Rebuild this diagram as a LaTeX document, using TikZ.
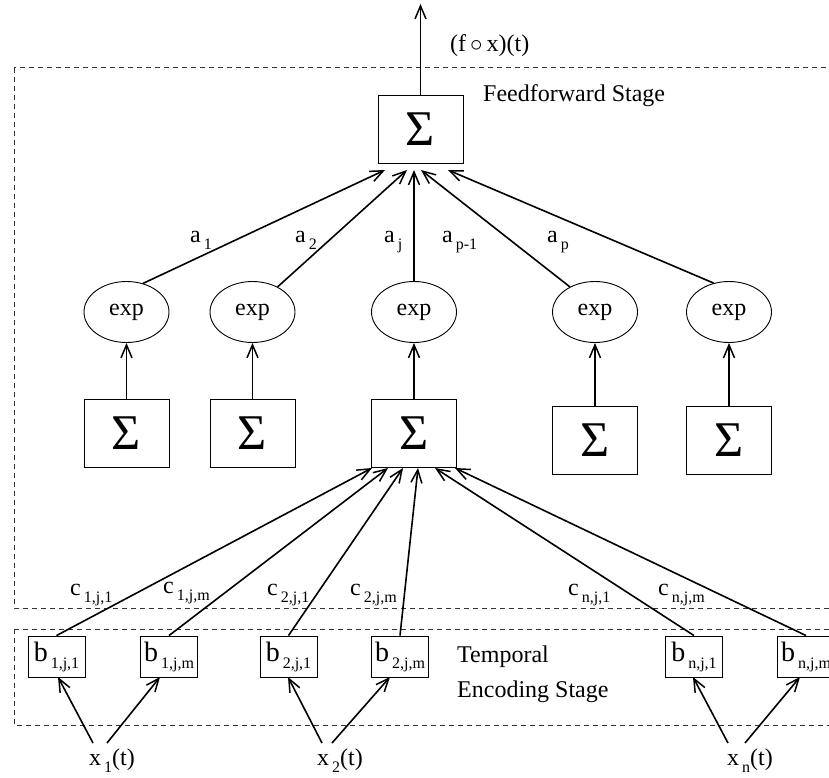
\documentclass[tikz,border=0pt]{standalone}
\usepackage{fontspec}
\setmainfont{Liberation Serif}
\usetikzlibrary{arrows.meta,calc,shapes.geometric}
% lowered, smaller index set after a small gap
\newcommand{\lsub}[1]{\kern3pt\raisebox{-7pt}{\fontsize{16}{16}\selectfont #1}}
\begin{document}
\begin{tikzpicture}[x=1pt,y=-1pt,
  every node/.style={font=\fontsize{24}{28}\selectfont},
  sumbox/.style={draw, line width=0.9pt, minimum width=85pt, minimum height=68pt, inner sep=0pt, font=\fontsize{50}{50}\selectfont},
  expnode/.style={draw, ellipse, line width=0.9pt, minimum width=85pt, minimum height=61pt, inner sep=0pt},
  bbox/.style={draw, line width=0.9pt, minimum width=57pt, minimum height=41pt, inner sep=0pt, font=\fontsize{28}{30}\selectfont},
  conn/.style={line width=1.6pt, -{Straight Barb[length=13pt,width=11pt,line width=1.5pt]}},
  stage/.style={draw=black!80, line width=1pt, dash pattern=on 5pt off 4pt},
  lbl/.style={anchor=base west, inner sep=0pt}
]
\fill[white] (0,0) rectangle (829,778);
\clip (0,0) rectangle (829,778);

% stage frames
\draw[stage] (14,68) rectangle (870,608);
\draw[stage] (14,629) rectangle (870,725);

% output summation
\node[sumbox] (top) at (420.5,129) {Σ};
\coordinate (out) at (420.5,4);
\draw[conn] (top) -- (out);
\node[lbl] (fx) at (450,52) {(f\,$\circ$\,x)(t)};
\node[lbl] (ffs) at (483,102) {Feedforward Stage};

% exponential units
\node[expnode] (e1) at (126.5,312) {exp};
\node[expnode] (e2) at (252.5,312) {exp};
\node[expnode] (e3) at (414,312) {exp};
\node[expnode] (e4) at (595,312) {exp};
\node[expnode] (e5) at (729,312) {exp};

% inner summations
\node[sumbox] (s1) at (126.5,433.5) {Σ};
\node[sumbox] (s2) at (252.5,433.5) {Σ};
\node[sumbox] (s3) at (414,433.5) {Σ};
\node[sumbox] (s4) at (595,440.5) {Σ};
\node[sumbox] (s5) at (729,440.5) {Σ};

\foreach \i in {1,...,5}{\draw[conn] (s\i) -- (e\i);}

% weighted links into the output summation
\coordinate (t1) at (385,170);
\coordinate (t2) at (407,170);
\coordinate (t3) at (414,170);
\coordinate (t4) at (421,170);
\coordinate (t5) at (448,170);
\draw[conn] (e1.60) -- (t1);
\draw[conn] (e2.45) -- (t2);
\draw[conn] (e3.north) -- (t3);
\draw[conn] (e4.135) -- (t4);
\draw[conn] (e5.118) -- (t5);

\node[lbl] (la1) at (190,242) {a\lsub{1}};
\node[lbl] (la2) at (295,242) {a\lsub{2}};
\node[lbl] (laj) at (384,242) {a\lsub{j}};
\node[lbl] (lap1) at (442,242) {a\lsub{p-1}};
\node[lbl] (lap) at (547,242) {a\lsub{p}};

% temporal encoding units
\node[bbox] (b11) at (56.5,656.5) {b\lsub{1,j,1}};
\node[bbox] (b1m) at (169,656.5) {b\lsub{1,j,m}};
\node[bbox] (b21) at (288.5,656.5) {b\lsub{2,j,1}};
\node[bbox] (b2m) at (400,656.5) {b\lsub{2,j,m}};
\node[bbox] (bn1) at (694,656.5) {b\lsub{n,j,1}};
\node[bbox] (bnm) at (806,656.5) {b\lsub{n,j,m}};

\node[lbl] (tmp1) at (457,662) {Temporal};
\node[lbl] (tmp2) at (457,697) {Encoding Stage};

% links into the j-th inner summation
\coordinate (u1) at (372,468);
\coordinate (u2) at (388,468);
\coordinate (u3) at (403,468);
\coordinate (u4) at (418,468);
\coordinate (u5) at (435,468);
\coordinate (u6) at (455,468);
\draw[conn] (b11.north) -- (u1);
\draw[conn] (b1m.north) -- (u2);
\draw[conn] (b21.north) -- (u3);
\draw[conn] (b2m.north) -- (u4);
\draw[conn] (bn1.north) -- (u5);
\draw[conn] (bnm.north) -- (u6);

\node[lbl] (lc11) at (70,595) {c\lsub{1,j,1}};
\node[lbl] (lc1m) at (163,593) {c\lsub{1,j,m}};
\node[lbl] (lc21) at (267,595) {c\lsub{2,j,1}};
\node[lbl] (lc2m) at (350,595) {c\lsub{2,j,m}};
\node[lbl] (lcn1) at (568,595) {c\lsub{n,j,1}};
\node[lbl] (lcnm) at (658,595) {c\lsub{n,j,m}};

% inputs
\node[lbl] (x1) at (89,765) {x\lsub{1}(t)};
\node[lbl] (x2) at (317,765) {x\lsub{2}(t)};
\node[lbl] (xn) at (727,765) {x\lsub{n}(t)};

\coordinate (x1l) at (93,743);
\coordinate (x1r) at (107,743);
\coordinate (x2l) at (322,743);
\coordinate (x2r) at (332,743);
\coordinate (xnl) at (728,743);
\coordinate (xnr) at (745,743);
\coordinate (v1) at (58,677);
\coordinate (v2) at (160,677);
\coordinate (v3) at (288,677);
\coordinate (v4) at (390,677);
\coordinate (v5) at (693,677);
\coordinate (v6) at (800,677);
\draw[conn] (x1l) -- (v1);
\draw[conn] (x1r) -- (v2);
\draw[conn] (x2l) -- (v3);
\draw[conn] (x2r) -- (v4);
\draw[conn] (xnl) -- (v5);
\draw[conn] (xnr) -- (v6);
\end{tikzpicture}
\end{document}
